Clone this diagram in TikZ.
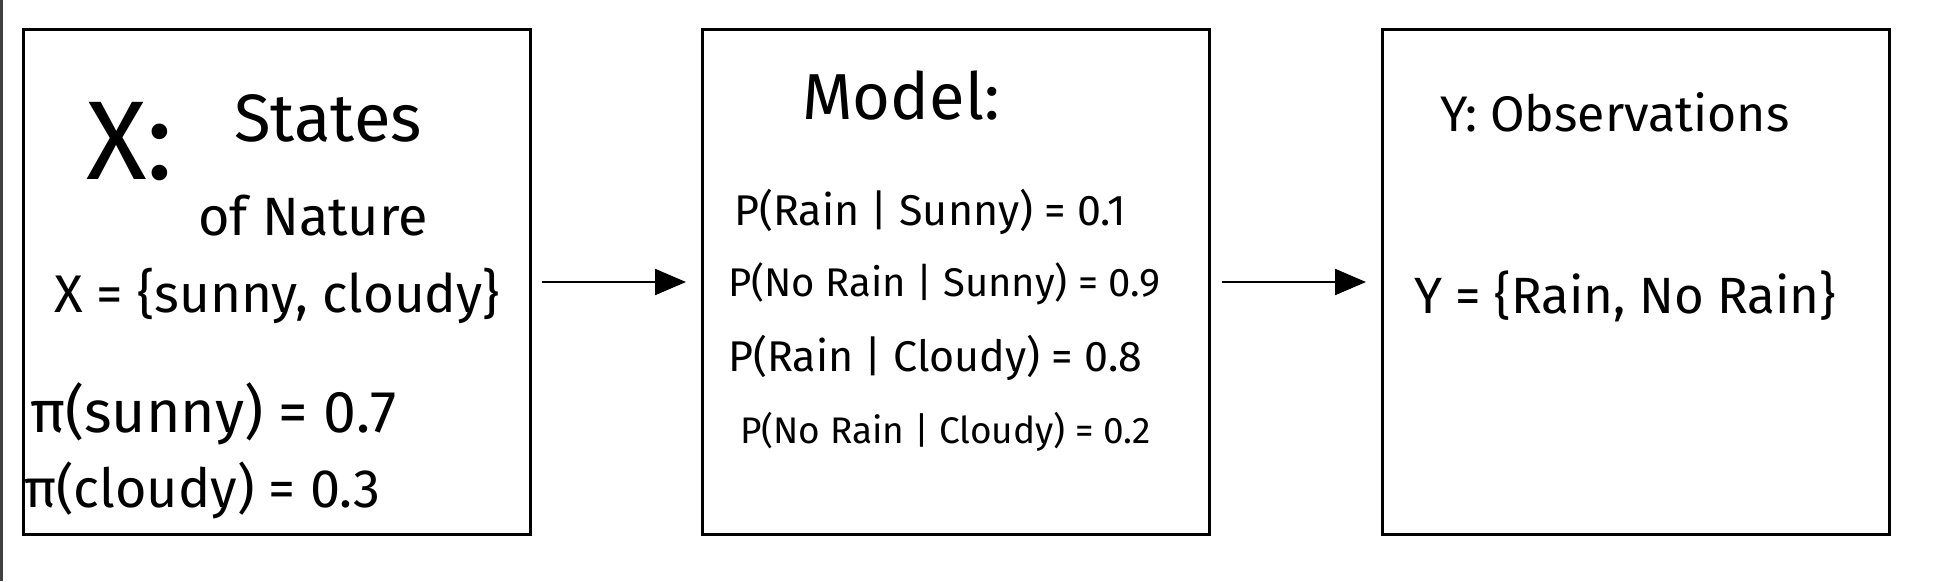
\documentclass[tikz,border=0pt]{standalone}
\usepackage{fontspec}
\setmainfont{Fira Sans}
\usetikzlibrary{arrows.meta}
\newcommand{\fs}[1]{\fontsize{#1}{#1}\selectfont}
\tikzset{
  panel/.style={draw=black, line width=3pt, minimum width=507pt, minimum height=505pt, inner sep=0pt},
  txt/.style={inner sep=0pt, anchor=west},
  flow/.style={line width=2.2pt, -{Triangle[length=31pt,width=26pt]}},
}
\begin{document}
\begin{tikzpicture}[x=1pt,y=-1pt]
\useasboundingbox (0,0) rectangle (1938,581);
\fill[white] (0,0) rectangle (1938,581);
\draw[line width=3pt, color=black!75] (1.5,0) -- (1.5,581);
% panels
\node[panel] (b1) at (277,282) {};
\node[panel] (b2) at (956,282) {};
\node[panel] (b3) at (1636,282) {};
% arrows
\coordinate (a1s) at (542,282);
\coordinate (a1e) at (686,282);
\coordinate (a2s) at (1222,282);
\coordinate (a2e) at (1366,282);
\draw[flow] (a1s) -- (a1e);
\draw[flow] (a2s) -- (a2e);
% panel 1
\node[txt] (xc) at (86,142) {\fs{112}X:};
\node[txt] (st) at (234,118) {\fs{67}States};
\node[txt] (na) at (198,216) {\fs{54}of Nature};
\node[txt] (xset) at (54,296) {\fs{53}X = \{sunny, cloudy\}};
\node[txt] (pis) at (30,414) {\fs{59}π(sunny) = 0.7};
\node[txt] (pic) at (24,490) {\fs{54}π(cloudy) = 0.3};
% panel 2
\node[txt] (mo) at (802,96) {\fs{65}Model:};
\node[txt] (m1) at (734,212) {\fs{43}P(Rain | Sunny) = 0.1};
\node[txt] (m2) at (728,284) {\fs{40}P(No Rain | Sunny) = 0.9};
\node[txt] (m3) at (728,358) {\fs{43}P(Rain | Cloudy) = 0.8};
\node[txt] (m4) at (740,432) {\fs{37}P(No Rain | Cloudy) = 0.2};
% panel 3
\node[txt] (yo) at (1440,112) {\fs{50}Y: Observations};
\node[txt] (yset) at (1414,296) {\fs{51}Y = \{Rain, No Rain\}};
\end{tikzpicture}
\end{document}
